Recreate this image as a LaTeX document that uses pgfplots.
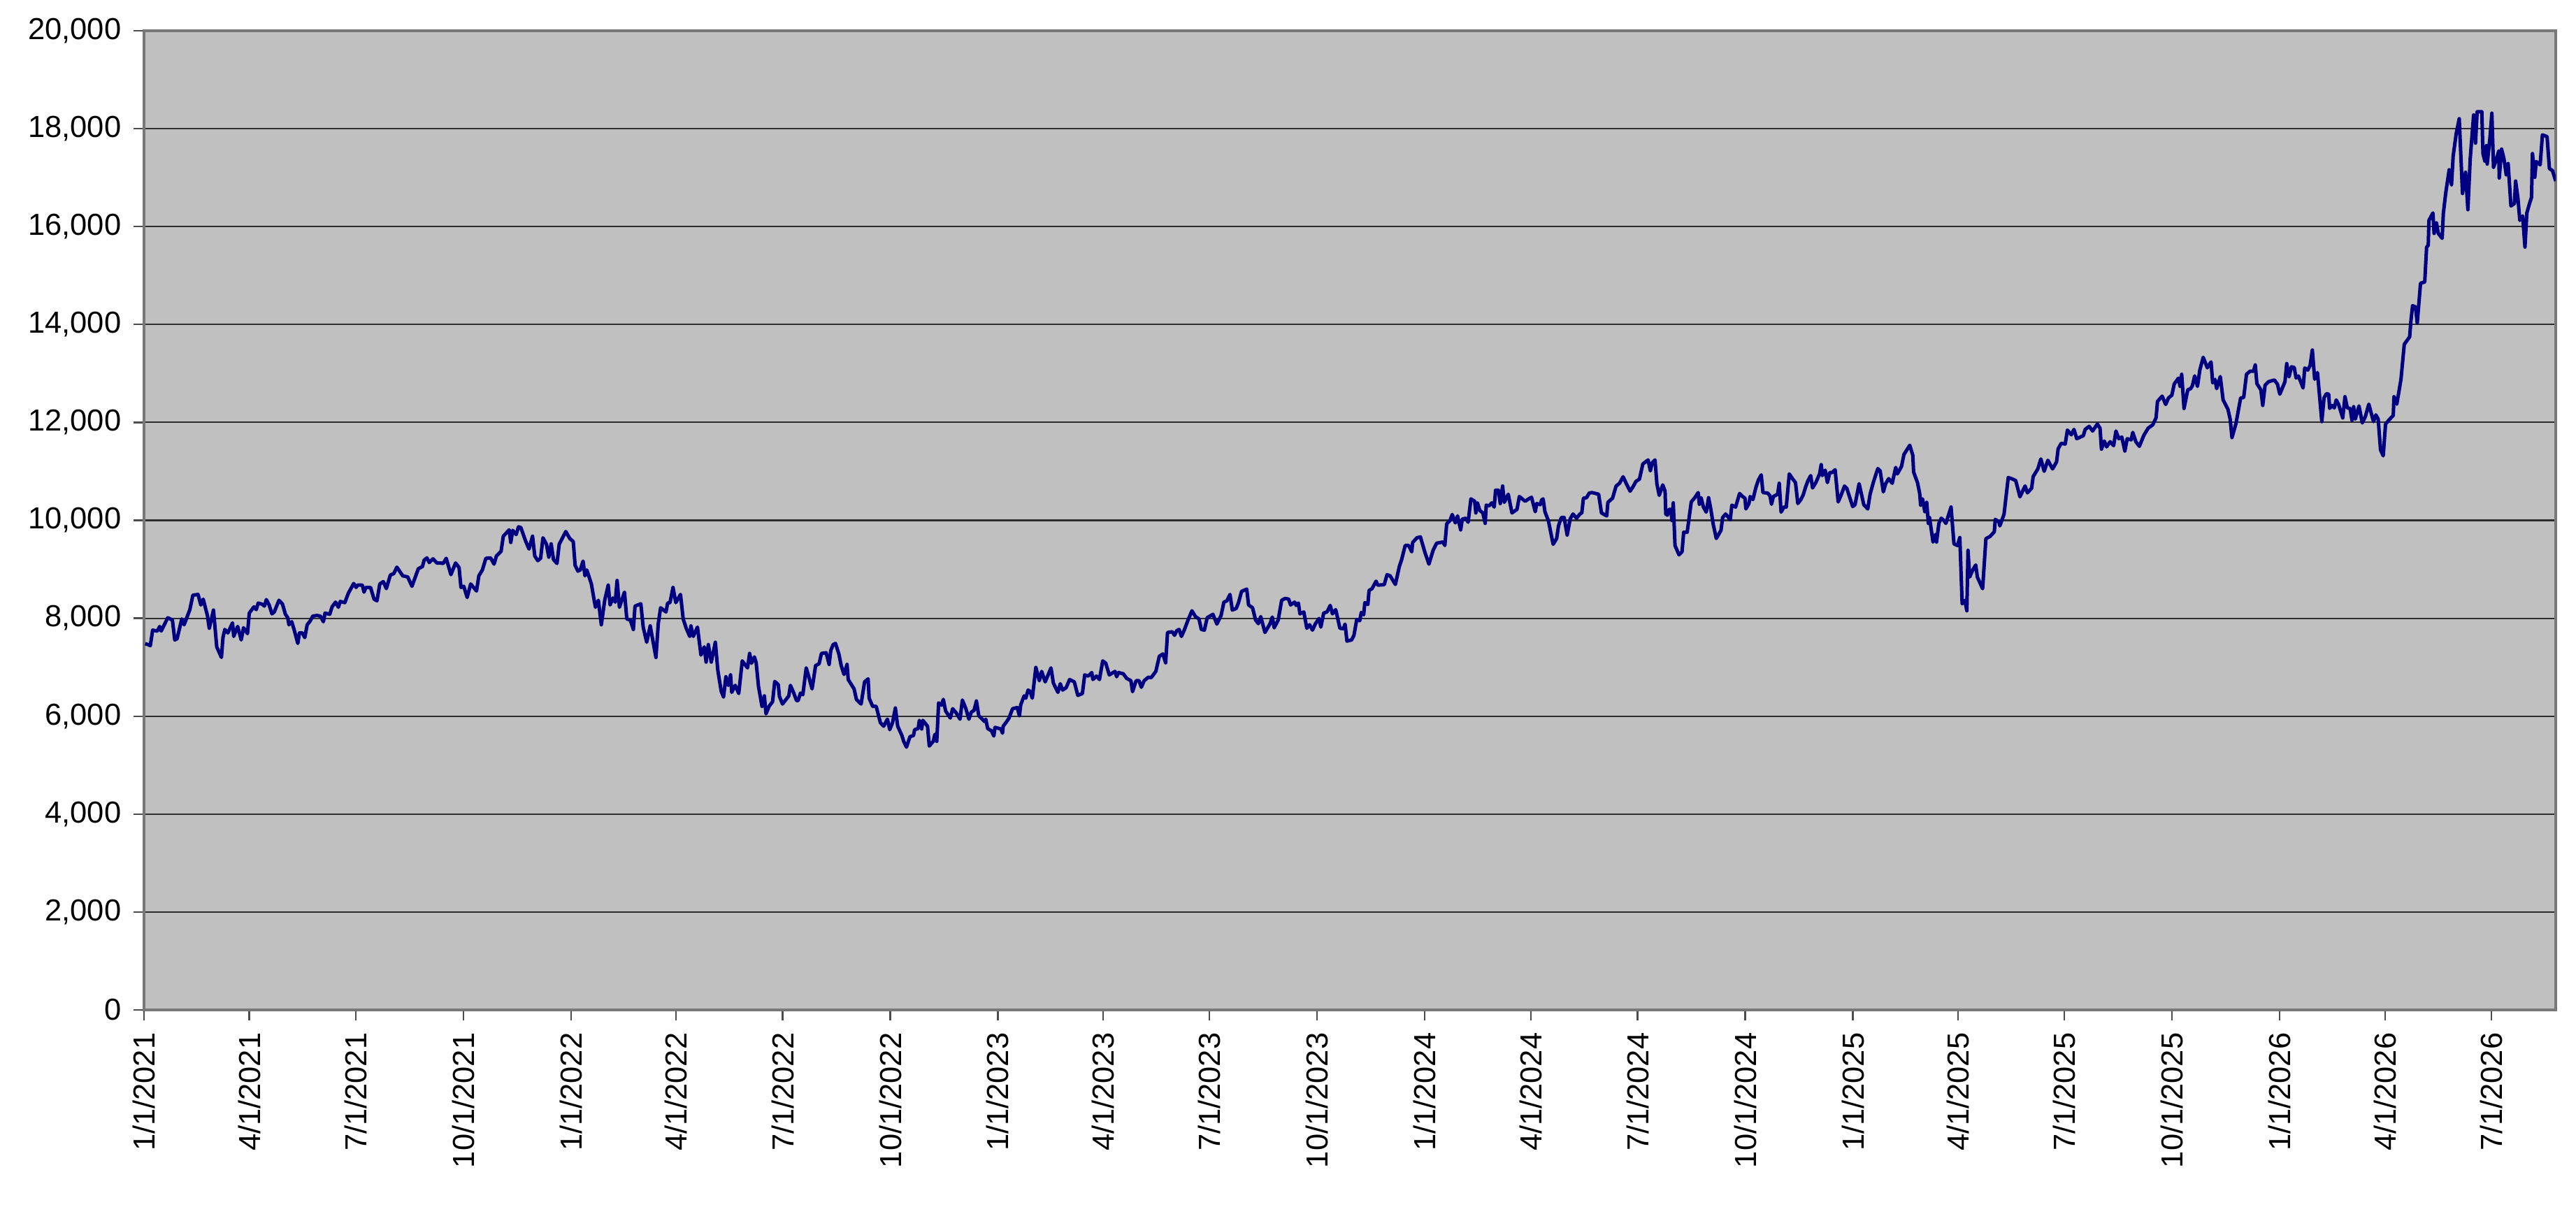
\documentclass[border=0pt]{standalone}
\usepackage{pgfplots}
\pgfplotsset{compat=1.18}
\usepackage{fontspec}
\setmainfont{Liberation Sans}
\definecolor{bggray}{RGB}{192,192,192}
\definecolor{navyline}{RGB}{0,0,128}
\definecolor{gridc}{RGB}{45,45,45}
\definecolor{axc}{RGB}{120,120,120}
\begin{document}
\begin{tikzpicture}
\useasboundingbox (-41.2pt,-58.4pt) rectangle (695.8pt,289pt);
\begin{axis}[
  at={(0,0)}, anchor=south west,
  scale only axis,
  width=690pt, height=280.2pt,
  xmin=0, xmax=2062, ymin=0, ymax=20000,
  axis background/.style={fill=bggray},
  axis line style={draw=axc, line width=0.9pt},
  ymajorgrids, major grid style={draw=gridc, line width=0.42pt},
  tick align=outside, major tick length=3pt,
  tick style={draw=black!70, line width=0.45pt},
  xtick pos=bottom, ytick pos=left,
  ytick={0,2000,4000,6000,8000,10000,12000,14000,16000,18000,20000},
  scaled y ticks=false,
  yticklabel style={/pgf/number format/.cd, fixed, 1000 sep={,}, assume math mode=true},
  xtick={0,90,181,273,365,455,546,638,730,820,911,1003,1095,1186,1277,1369,1461,1551,1642,1734,1826,1916,2007},
  xticklabels={1/1/2021,4/1/2021,7/1/2021,10/1/2021,1/1/2022,4/1/2022,7/1/2022,10/1/2022,1/1/2023,4/1/2023,7/1/2023,10/1/2023,1/1/2024,4/1/2024,7/1/2024,10/1/2024,1/1/2025,4/1/2025,7/1/2025,10/1/2025,1/1/2026,4/1/2026,7/1/2026},
  xticklabel style={rotate=90, anchor=east},
  ticklabel style={font=\fontsize{8.7}{10}\selectfont},
]
\addplot[navyline, line width=1.0pt, line join=round] coordinates {
(1,7480)(3.4,7462)(5.4,7440)(7.4,7757)(11.4,7738)(13.4,7833)(14.7,7738)(20.3,8010)(24.3,7962)(26.3,7557)(28.3,7581)(32.3,7986)(34.3,7867)(39.2,8176)(41.8,8471)(46.2,8486)(48.6,8271)(50.6,8390)(54.2,8057)(55.8,7795)(59.4,8167)(62.2,7414)(66.2,7200)(67.5,7605)(69.1,7771)(71.7,7700)(75.7,7905)(76.7,7629)(80.1,7833)(83.1,7557)(85.1,7805)(88.5,7686)(90.0,8105)(94.0,8233)(96.0,8176)(97.6,8310)(101.0,8286)(103.0,8248)(104.6,8381)(107.0,8271)(109.4,8090)(111.4,8129)(115.4,8367)(118.4,8290)(120.9,8081)(122.9,8010)(123.9,7867)(126.3,7929)(128.3,7771)(131.5,7486)(132.9,7700)(135.3,7700)(137.5,7605)(139.5,7867)(141.9,7938)(144.3,8043)(147.8,8057)(150.8,8043)(153.4,7929)(154.8,8105)(158.8,8081)(160.8,8233)(163.8,8329)(166.2,8224)(167.8,8343)(171.7,8319)(174.7,8510)(179.3,8710)(181.3,8629)(182.7,8676)(186.7,8676)(188.1,8533)(189.7,8629)(193.7,8629)(196.7,8390)(199.2,8357)(201.6,8700)(204.6,8748)(207.2,8605)(210.6,8881)(213.6,8914)(216.2,9043)(221.2,8867)(225.5,8843)(229.1,8652)(234.5,9010)(238.1,9057)(239.5,9186)(241.9,9233)(243.9,9138)(247.1,9214)(250.4,9129)
(253.4,9129)(255.8,9119)(258.4,9224)(262.4,8890)(266.4,9129)(269.4,9033)(271.0,8629)(273.4,8652)(276.3,8424)(279.3,8700)(284.3,8557)(286.3,8867)(289.3,8986)(292.3,9224)(296.3,9233)(299.3,9105)(301.3,9271)(305.3,9367)(307.2,9676)(312.2,9805)(313.6,9548)(315.2,9795)(318.2,9710)(320.2,9867)(322.2,9852)(326.2,9581)(329.2,9414)(332.2,9676)(334.1,9271)(336.7,9176)(339.1,9224)(341.1,9643)(344.1,9510)(346.1,9248)(348.1,9519)(350.1,9200)(353.1,9119)(355.0,9510)(360.6,9771)(364.0,9629)(367.0,9567)(368.6,9081)(371.0,8962)(373.0,8986)(375.4,9167)(377.0,8867)(378.6,8986)(382.5,8700)(384.9,8367)(386.0,8224)(388.5,8367)(391.0,7867)(393.9,8367)(396.9,8676)(398.5,8271)(400.9,8414)(402.9,8329)(404.5,8771)(406.5,8224)(410.8,8533)(412.8,7986)(415.8,7962)(418.4,7771)(419.8,8248)(424.8,8295)(426.8,7819)(429.8,7510)(432.8,7843)(437.7,7200)(439.7,7890)(441.7,8214)(446.3,8129)(447.7,8310)(449.7,8319)(452.3,8629)(454.7,8319)(458.7,8486)(461.0,7986)(463.6,7795)(466.6,7629)(467.6,7843)(469.6,7629)(473.2,7819)(476.2,7248)(479.0,7414)(480.6,7105)(482.5,7462)(485.0,7105)(488.5,7510)(490.6,6938)(493.5,6510)(495.5,6390)(497.5,6805)(499.5,6629)(501.5,6843)(502.5,6486)(505.5,6629)(508.5,6462)(511.5,7129)
(516.0,6986)(517.8,7281)(519.4,7081)(521.9,7210)(523.4,7090)(525.4,6605)(528.4,6200)(530.4,6414)(531.8,6048)(534.4,6200)(537.4,6295)(539.3,6710)(542.3,6643)(543.3,6405)(545.9,6248)(551.3,6414)(552.7,6629)(555.3,6486)(557.9,6319)(559.3,6319)(561.3,6471)(563.3,6438)(566.2,6986)(568.2,6819)(571.2,6557)(574.2,7033)(577.2,7071)(579.2,7281)(583.2,7295)(585.8,7057)(587.2,7343)(589.2,7462)(591.2,7486)(594.1,7271)(596.1,7033)(598.5,6852)(601.1,7057)(602.1,6748)(607.1,6557)(609.1,6343)(613.1,6248)(616.1,6700)(619.1,6762)(620.0,6367)(623.0,6200)(626.0,6200)(629.6,5867)(632.4,5795)(635.6,5938)(637.6,5724)(640.0,5867)(642.4,6167)(644.4,5795)(648.0,5605)(649.5,5486)(651.9,5367)(654.9,5581)(657.9,5605)(658.9,5724)(661.9,5748)(662.9,5914)(664.9,5738)(665.9,5914)(669.9,5795)(671.4,5390)(674.8,5486)(676.2,5629)(677.8,5486)(679.4,6271)(681.8,6224)(683.4,6343)(685.4,6105)(689.4,5962)(691.4,6152)(694.7,6057)(697.7,5938)(699.7,6329)(702.7,6152)(705.3,5938)(707.3,6081)(709.7,6119)(711.7,6310)(713.7,6010)(718.7,5890)(719.7,5938)(721.3,5748)(724.6,5700)(726.6,5595)(727.6,5771)(732.6,5738)(734.0,5652)(734.6,5795)(737.6,5890)(739.6,5962)(742.6,6152)(746.6,6176)(748.5,6010)(749.6,6233)(752.5,6414)(753.9,6367)(755.9,6533)(757.5,6510)(759.5,6367)(762.5,6995)(765.5,6724)
(767.5,6914)(770.5,6700)(775.5,6986)(777.5,6676)(781.4,6486)(783.4,6662)(785.4,6533)(788.4,6581)(791.4,6748)(795.4,6700)(798.4,6424)(802.3,6462)(804.3,6843)(807.3,6819)(810.3,6890)(811.3,6748)(814.3,6819)(816.9,6748)(819.7,7129)(822.3,7081)(825.3,6843)(830.2,6914)(831.6,6805)(833.2,6890)(837.2,6867)(840.2,6771)(843.8,6724)(845.2,6500)(848.2,6724)(850.8,6724)(852.7,6590)(855.1,6724)(858.7,6795)(861.1,6786)(865.1,6914)(868.1,7224)(871.1,7271)(873.5,7090)(875.1,7710)(879.1,7724)(881.1,7652)(883.0,7748)(885.0,7771)(887.0,7629)(889.4,7757)(893.0,7986)(896.0,8152)(899.0,8033)(902.0,7986)(904.0,7771)(906.6,7757)(909.0,8010)(913.9,8081)(917.3,7881)(920.9,8057)(923.3,8329)(925.9,8357)(928.5,8486)(930.5,8167)(933.8,8200)(935.8,8319)(938.4,8548)(942.8,8595)(944.4,8271)(947.8,8214)(950.4,7962)(952.8,7890)(954.8,8033)(958.4,7710)(962.8,7890)(964.7,8024)(966.3,7805)(969.7,7962)(972.7,8367)(975.7,8405)(978.7,8390)(980.3,8271)(983.7,8329)(985.1,8262)(987.0,8310)(988.3,8090)(991.6,8129)(994.2,7795)(996.6,7867)(999.0,7757)(1001.6,7890)(1004.6,7995)(1006.2,7819)(1008.6,8105)(1011.5,8129)(1014.2,8262)(1016.1,8090)(1018.9,8176)(1022.5,7795)(1025.5,7786)(1026.9,7881)
(1028.5,7533)(1032.5,7557)(1034.5,7652)(1036.9,7976)(1039.4,7948)(1040.8,8119)(1042.8,8071)(1043.8,8319)(1046.4,8281)(1047.4,8567)(1050.0,8605)(1053.4,8757)(1054.8,8676)(1060.4,8686)(1062.8,8890)(1065.4,8867)(1069.9,8690)(1073.3,9057)(1075.3,9200)(1078.3,9486)(1081.3,9486)(1083.9,9357)(1084.7,9548)(1088.3,9643)(1091.3,9662)(1095.2,9343)(1098.6,9105)(1102.2,9390)(1105.2,9533)(1110.6,9557)(1112.2,9486)(1113.8,9929)(1116.6,9995)(1118.5,10119)(1121.2,9948)(1123.1,10090)(1125.7,9805)(1127.1,10024)(1130.1,10043)(1132.1,9962)(1134.5,10438)(1137.7,10390)(1138.7,10152)(1140.1,10357)(1142.1,10200)(1144.7,10152)(1146.7,9938)(1147.6,10310)(1150.0,10295)(1152.4,10357)(1154.4,10271)(1155.6,10614)(1158.0,10614)(1159.6,10343)(1161.6,10700)(1163.0,10367)(1166.4,10533)(1168.0,10343)(1169.6,10152)(1173.9,10224)(1175.9,10486)(1180.9,10390)(1183.9,10438)(1186.3,10471)(1189.5,10176)(1190.8,10343)(1193.8,10319)(1194.9,10414)(1196.2,10438)(1197.8,10176)(1200.8,9986)(1204.8,9510)(1207.8,9629)(1209.4,9890)(1211.8,10057)(1214.2,10057)(1216.8,9700)(1219.4,10033)(1221.8,10129)(1224.8,10043)(1227.7,10129)(1229.3,10152)(1230.7,10452)(1233.3,10462)(1235.7,10557)(1238.1,10567)(1243.7,10533)(1246.1,10152)(1250.6,10090)(1251.6,10367)(1255.6,10452)(1258.6,10700)(1261.6,10757)(1264.6,10890)(1267.6,10738)(1270.6,10595)(1273.2,10690)(1275.6,10795)(1278.6,10843)(1281.5,11152)(1286.0,11233)(1287.9,11010)(1289.5,11176)(1291.9,11233)(1293.5,10748)
(1295.5,10510)(1298.5,10724)(1300.5,10595)(1301.1,10129)(1302.5,10105)(1303.9,10224)(1305.4,10224)(1306.4,9995)(1307.5,10357)(1309.0,9486)(1312.4,9295)(1315.0,9357)(1316.4,9757)(1319.4,9757)(1321.0,10043)(1322.9,10376)(1325.9,10462)(1328.8,10567)(1329.8,10329)(1331.3,10462)(1333.3,10271)(1335.7,10167)(1337.7,10462)(1339.7,10214)(1341.7,9914)(1344.3,9629)(1348.3,9795)(1349.7,10057)(1352.3,10129)(1356.2,10010)(1357.6,10310)(1360.8,10271)(1364.2,10548)(1366.8,10486)(1368.8,10452)(1369.6,10233)(1372.2,10343)(1373.2,10486)(1375.6,10424)(1378.2,10676)(1380.2,10819)(1382.7,10929)(1384.2,10567)(1388.2,10557)(1390.2,10500)(1391.5,10329)(1393.1,10486)(1396.7,10533)(1398.1,10757)(1399.7,10167)(1402.1,10271)(1404.1,10271)(1406.7,10948)(1409.4,10852)(1412.0,10771)(1414.0,10343)(1416.6,10424)(1418.6,10519)(1420.6,10676)(1422.6,10805)(1425.0,10914)(1426.6,10662)(1429.4,10771)(1432.6,10948)(1434.0,11138)(1435.0,10914)(1437.4,11024)(1439.3,10771)(1441.3,10976)(1443.3,10976)(1445.9,11033)(1448.5,10376)(1450.9,10510)(1453.9,10700)(1455.9,10652)(1460.9,10281)(1462.9,10319)(1466.4,10748)(1470.4,10319)(1473.8,10233)(1475.8,10533)(1478.8,10795)(1482.4,11057)(1484.4,11010)(1487.1,10581)(1489.1,10748)(1491.7,10852)(1494.7,10757)(1497.7,11081)(1499.1,10948)(1502.7,11105)(1504.7,11343)(1509.7,11533)(1512.3,11329)(1513.0,10986)(1516.3,10771)(1518.2,10548)(1519.0,10310)(1520.6,10438)(1522.6,10176)(1524.2,10367)(1525.6,9938)(1526.6,10057)(1529.6,9557)(1531.6,9710)(1532.6,9557)(1534.6,9938)(1536.6,10043)(1539.0,9995)(1540.6,9938)(1545.0,10271)(1547.5,9519)(1550.5,9486)
(1552.5,9648)(1554.5,8295)(1556.9,8366)(1558.5,8152)(1559.5,9387)(1560.9,8841)(1563.5,8983)(1566.1,9088)(1567.5,8841)(1572.0,8603)(1574.8,9625)(1578.4,9672)(1582.0,9767)(1582.8,10019)(1585.9,9971)(1586.7,9886)(1590.3,10124)(1593.9,10874)(1597.3,10846)(1600.3,10812)(1603.9,10480)(1608.3,10703)(1610.3,10561)(1613.9,10656)(1615.2,10893)(1619.2,11050)(1621.8,11254)(1624.6,11002)(1627.8,11226)(1631.8,11050)(1635.2,11192)(1636.6,11463)(1639.2,11572)(1642.6,11558)(1644.5,11843)(1647.8,11748)(1650.1,11857)(1652.5,11667)(1658.1,11729)(1659.7,11857)(1663.1,11919)(1666.0,11824)(1670.1,11967)(1672.4,11881)(1673.6,11454)(1676.0,11620)(1678.0,11501)(1681.0,11606)(1684.0,11525)(1686.0,11824)(1688.4,11667)(1691.0,11701)(1693.6,11416)(1695.6,11667)(1699.0,11644)(1700.4,11796)(1703.0,11606)(1706.0,11511)(1709.9,11739)(1713.5,11881)(1717.5,11952)(1720.3,12095)(1721.5,12428)(1725.5,12537)(1728.5,12366)(1730.9,12499)(1733.8,12556)(1735.8,12784)(1739.4,12903)(1740.8,12736)(1742.2,12983)(1744.2,12285)(1747.4,12665)(1749.8,12689)(1751.3,12746)(1753.3,12950)(1755.7,12736)(1757.7,13069)(1760.6,13330)(1764.1,13116)(1767.3,13235)(1768.7,12808)(1770.7,12879)(1772.1,12689)(1775.2,12936)(1777.6,12461)(1781.7,12271)(1783.6,12071)(1785.2,11691)(1788.6,11976)(1792.6,12499)(1795.2,12508)(1797.6,12983)(1800.6,13045)(1803.6,13045)(1805.1,13173)(1806.5,12793)(1809.9,12665)(1811.5,12347)(1813.5,12760)(1816.5,12831)
(1818.5,12846)(1821.5,12866)(1824.1,12780)(1826.1,12576)(1830.5,12831)(1832.0,13202)(1834.0,12932)(1836.0,13136)(1838.4,13121)(1840.0,12907)(1842.0,12948)(1846.0,12703)(1847.4,13111)(1850.0,13070)(1852.0,13162)(1853.9,13478)(1855.9,12882)(1858.3,13019)(1862.0,12016)(1863.9,12500)(1865.9,12586)(1867.9,12576)(1868.7,12286)(1870.7,12347)(1872.7,12296)(1874.3,12459)(1876.3,12372)(1879.9,12092)(1881.8,12525)(1883.8,12296)(1886.2,12286)(1887.8,12041)(1889.2,12321)(1890.6,12067)(1893.8,12336)(1896.6,11990)(1899.2,12118)(1902.2,12372)(1904.2,12194)(1906.2,12016)(1908.2,12153)(1910.2,12067)(1912.2,11440)(1914.5,11318)(1916.5,11965)(1919.1,12041)(1923.1,12143)(1923.7,12525)(1926.1,12372)(1929.7,12882)(1932.5,13595)(1937.1,13748)(1938.1,14053)(1939.6,14384)(1942.1,14359)(1943.6,14028)(1946.4,14842)(1950.0,14868)(1951.6,15581)(1953.0,15617)(1953.6,16126)(1957.0,16279)(1958.0,15861)(1960.0,16075)(1961.6,15861)(1964.9,15759)(1965.9,16268)(1967.9,16676)(1970.9,17160)(1972.9,16854)(1974.3,17440)(1976.9,17898)(1979.5,18204)(1982.3,16676)(1984.9,17109)(1986.9,16345)(1988.9,17389)(1991.8,18280)(1993.4,17705)(1994.8,18346)(1998.8,18346)(1999.8,17491)(2001.4,17338)(2002.8,17654)(2003.4,17277)(2005.8,17822)(2007.4,18316)(2008.8,17211)(2010.8,17338)(2013.3,17542)(2013.7,16992)(2015.7,17582)(2017.7,17389)(2019.7,17058)(2021.3,17287)(2023.7,16421)(2026.7,16472)(2027.7,16930)(2029.7,16574)(2031.3,16126)(2033.7,16218)(2035.7,15581)(2037.3,16279)(2039.3,16447)(2041.3,16599)(2042.1,17491)(2044.1,17007)(2045.3,17328)(2048.7,17262)(2050.6,17873)(2054.6,17837)(2056.6,17185)(2059.2,17144)(2062.0,16930)
};
\end{axis}
\end{tikzpicture}
\end{document}
